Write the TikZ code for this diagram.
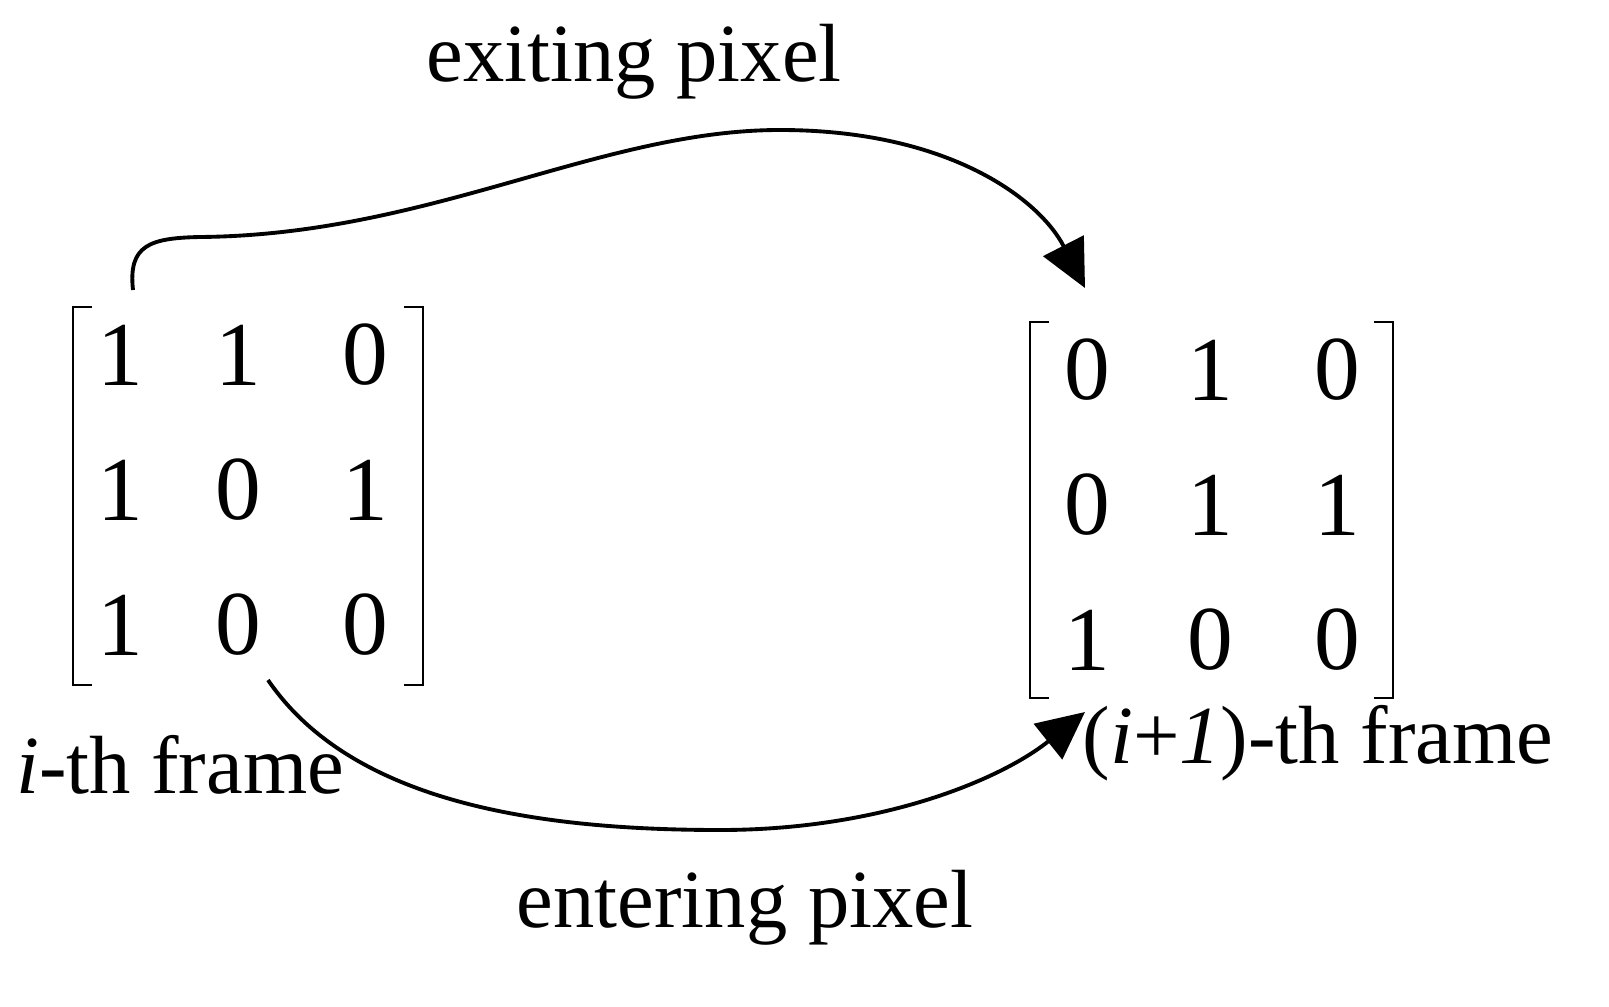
\documentclass[tikz,border=0pt]{standalone}
\usepackage{fontspec}
\setmainfont{Liberation Serif}
\usetikzlibrary{arrows.meta}
\begin{document}
\begin{tikzpicture}[x=0.02cm,y=-0.02cm,
  num/.style={font=\fontsize{52}{60}\selectfont,inner sep=0pt},
  lab/.style={font=\fontsize{47}{54}\selectfont,inner sep=0pt},
  brk/.style={line width=1.3pt},
  arr/.style={line width=2.2pt,-{Triangle[length=0.95cm,width=0.9cm]}}]
\useasboundingbox (0,0) rectangle (1609,1007);
\node[num] (a11) at (120,355) {1}; \node[num] (a12) at (238,355) {1}; \node[num] (a13) at (365,355) {0};
\node[num] (a21) at (120,490) {1}; \node[num] (a22) at (238,490) {0}; \node[num] (a23) at (365,490) {1};
\node[num] (a31) at (120,625) {1}; \node[num] (a32) at (238,625) {0}; \node[num] (a33) at (365,625) {0};
\draw[brk] (92,307) -- (73,307) -- (73,685) -- (92,685);
\draw[brk] (404,307) -- (423,307) -- (423,685) -- (404,685);
\node[num] (b11) at (1087,370) {0}; \node[num] (b12) at (1210,370) {1}; \node[num] (b13) at (1337,370) {0};
\node[num] (b21) at (1087,505) {0}; \node[num] (b22) at (1210,505) {1}; \node[num] (b23) at (1337,505) {1};
\node[num] (b31) at (1087,640) {1}; \node[num] (b32) at (1210,640) {0}; \node[num] (b33) at (1337,640) {0};
\draw[brk] (1049,322) -- (1030,322) -- (1030,698) -- (1049,698);
\draw[brk] (1374,322) -- (1393,322) -- (1393,698) -- (1374,698);
\node[lab] (ex) at (634,62) {exiting pixel};
\node[lab] (en) at (745,908) {entering pixel};
\node[lab] (li) at (180,765) {\textit{i}-th frame};
\node[lab] (ri) at (1318,743) {(\textit{i}+\textit{1})-th frame};
\coordinate (s1) at (133,290);
\coordinate (t1) at (1085,288);
\coordinate (s2) at (268,680);
\coordinate (t2) at (1085,712);
\draw[arr] (s1) .. controls (128,245) and (150,238) .. (200,237)
  .. controls (430,235) and (600,130) .. (780,130)
  .. controls (950,130) and (1040,200) .. (t1);
\draw[arr] (s2) .. controls (350,800) and (530,830) .. (720,830)
  .. controls (880,830) and (1000,780) .. (t2);
\end{tikzpicture}
\end{document}
